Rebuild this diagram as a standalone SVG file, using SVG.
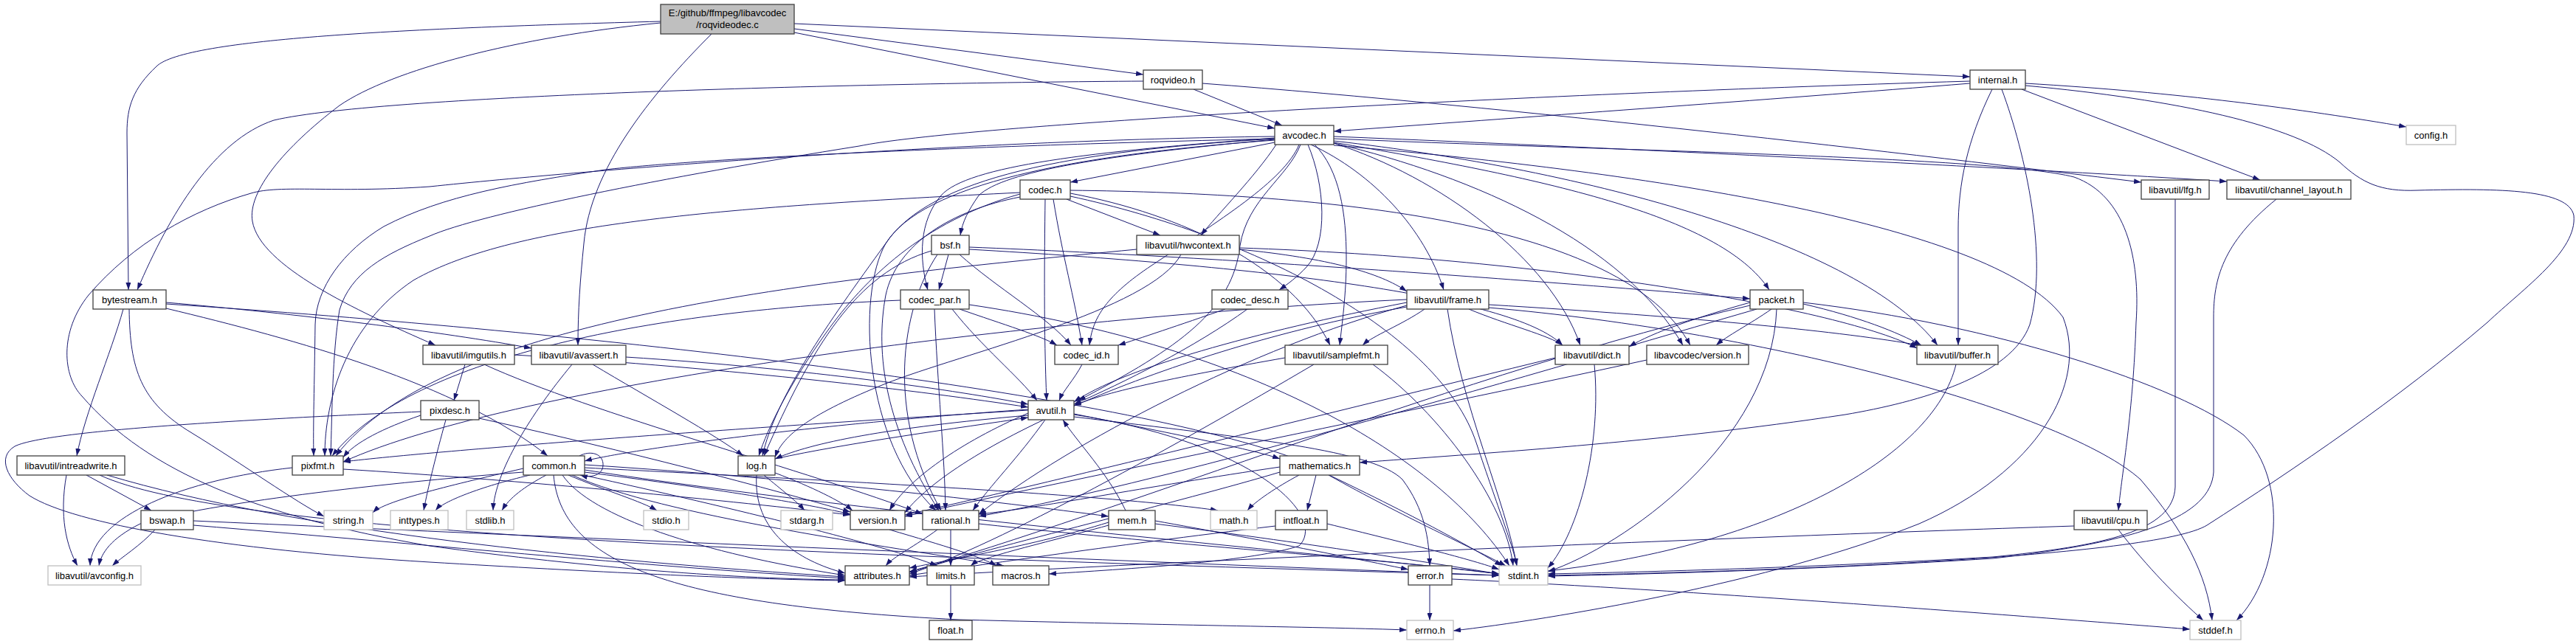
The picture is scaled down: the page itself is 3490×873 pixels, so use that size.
<svg xmlns="http://www.w3.org/2000/svg" width="3490" height="873" viewBox="0 0 3490 873">
<style>
.e{fill:none;stroke:#191970;stroke-width:1;marker-end:url(#a)}
.n rect{fill:#fff;stroke:#404040;stroke-width:1.3}
.s rect{fill:#fff;stroke:#bfbfbf;stroke-width:1.3}
.r rect{fill:#bfbfbf;stroke:#404040;stroke-width:1.3}
text{font-family:"Liberation Sans",Arial,sans-serif;font-size:13px;fill:#000;text-anchor:middle}
</style>
<defs>
<marker id="a" viewBox="0 0 10 7" refX="10" refY="3.5" markerWidth="10" markerHeight="7" orient="auto" markerUnits="userSpaceOnUse"><path d="M0,0L10,3.5L0,7z" fill="#191970"/></marker>
</defs>
<rect width="3490" height="873" fill="#fff"/>
<g id="edges">
<path class="e" d="M895,29 C560,38 250,52 212,90 C180,120 172,145 172,180 L174,393"/>
<path class="e" d="M895,31 C700,50 530,95 460,143 C385,200 335,260 342,300 C352,360 480,420 590,468"/>
<path class="e" d="M964,46 C880,130 800,230 791,330 C786,380 783,420 783,468"/>
<path class="e" d="M1076,39 L1549,101"/>
<path class="e" d="M1076,44 L1727,174"/>
<path class="e" d="M1076,32 L2669,104"/>
<path class="e" d="M1549,110 C1200,112 520,128 371,163 C290,190 230,290 186,393"/>
<path class="e" d="M1617,121 L1737,170"/>
<path class="e" d="M1629,113 C2050,145 2600,210 2901,247"/>
<path class="e" d="M2669,113 C2400,135 2050,160 1807,178"/>
<path class="e" d="M2669,110 C2000,130 1300,170 1164,198 C900,240 650,290 582,320 C520,345 475,370 460,420 C450,480 450,560 448,618"/>
<path class="e" d="M2699,121 C2665,190 2653,250 2653,310 L2653,468"/>
<path class="e" d="M2712,121 C2745,210 2775,350 2750,440 C2725,510 2600,545 2500,562 C2250,600 2000,615 1842,627"/>
<path class="e" d="M2744,113 C2950,125 3120,148 3260,172"/>
<path class="e" d="M2739,121 L3062,244"/>
<path class="e" d="M2744,116 C2950,135 3110,170 3170,220 C3200,248 3225,260 3275,258 C3390,255 3480,257 3487,292 C3492,340 3420,390 3370,437 C3250,540 3110,635 2990,712 C2920,755 2400,775 2097,780"/>
<path class="e" d="M1727,193 L1450,247"/>
<path class="e" d="M1727,189 C1500,210 1360,232 1326,265 C1312,285 1304,300 1301,319"/>
<path class="e" d="M1729,196 C1700,240 1650,290 1627,319"/>
<path class="e" d="M1727,187 C1480,205 1310,225 1275,265 C1245,300 1245,350 1257,393"/>
<path class="e" d="M1772,196 C1795,250 1800,330 1770,362 C1758,375 1745,385 1733,393"/>
<path class="e" d="M1776,196 C1860,235 1930,310 1956,393"/>
<path class="e" d="M1807,193 C2080,240 2330,290 2397,393"/>
<path class="e" d="M1760,196 C1740,245 1650,300 1560,360 C1500,400 1480,430 1476,468"/>
<path class="e" d="M1781,196 C1815,230 1824,290 1824,350 C1824,400 1818,440 1815,468"/>
<path class="e" d="M1727,188 C1300,198 950,215 820,230 C700,248 600,265 520,307 C465,340 428,390 427,440 C426,520 424,580 425,618"/>
<path class="e" d="M1727,185 C1300,190 800,230 582,253 C450,262 380,250 340,262 C260,285 180,330 120,400 C80,450 85,510 111,537 C200,640 350,700 582,740 C800,770 1000,785 1145,786"/>
<path class="e" d="M1807,197 C2200,230 2700,300 2795,430 C2830,520 2760,640 2600,710 C2400,790 2100,840 1969,855"/>
<path class="e" d="M1762,196 C1745,240 1690,270 1680,333 C1670,420 1600,470 1461,543"/>
<path class="e" d="M1807,191 C2150,230 2520,330 2625,468"/>
<path class="e" d="M1807,188 C2200,205 2700,212 2810,240 C2880,265 2900,350 2894,437 C2890,560 2875,640 2870,692"/>
<path class="e" d="M1807,185 C2300,205 2800,232 3017,246"/>
<path class="e" d="M1807,194 C1950,240 2100,350 2141,468"/>
<path class="e" d="M1727,188 C1450,205 1260,240 1200,330 C1120,440 1050,540 1033,618"/>
<path class="e" d="M1727,190 C1450,210 1250,250 1200,330 C1160,400 1170,600 1268,692"/>
<path class="e" d="M1807,194 C2000,240 2200,330 2280,468"/>
<path class="e" d="M225,410 C400,425 600,450 720,472"/>
<path class="e" d="M225,418 C400,460 620,520 742,618"/>
<path class="e" d="M167,419 C150,480 115,560 104,618"/>
<path class="e" d="M175,419 C176,500 190,545 260,587 C330,630 400,680 439,700"/>
<path class="e" d="M225,412 C800,450 1500,530 1750,620 C1900,690 1990,740 2035,767"/>
<path class="e" d="M1445,270 L1572,319"/>
<path class="e" d="M1427,270 C1440,350 1455,400 1466,468"/>
<path class="e" d="M1416,270 C1415,350 1414,450 1418,543"/>
<path class="e" d="M1382,263 C1250,300 1170,380 1120,450 C1070,520 1040,580 1028,618"/>
<path class="e" d="M1382,261 C1000,280 700,300 560,380 C470,440 440,540 440,618"/>
<path class="e" d="M1382,267 C1290,285 1215,330 1200,400 C1185,480 1200,580 1272,692"/>
<path class="e" d="M1450,262 C1600,290 1750,360 1802,468"/>
<path class="e" d="M1450,258 C1800,262 2200,300 2290,468"/>
<path class="e" d="M1450,266 C1700,320 1950,450 2000,600 C2030,690 2050,740 2055,767"/>
<path class="e" d="M1285,345 L1272,393"/>
<path class="e" d="M1300,345 C1350,390 1420,430 1451,468"/>
<path class="e" d="M1313,335 C1700,350 2200,390 2371,405"/>
<path class="e" d="M1313,338 C1700,360 2050,400 2117,468"/>
<path class="e" d="M1262,340 C1160,370 1100,470 1035,618"/>
<path class="e" d="M1270,345 C1220,420 1200,560 1275,692"/>
<path class="e" d="M1300,419 C1360,440 1410,455 1432,468"/>
<path class="e" d="M1290,419 C1330,470 1380,510 1405,543"/>
<path class="e" d="M1266,419 C1270,520 1280,620 1281,692"/>
<path class="e" d="M1220,407 C900,420 560,480 450,618"/>
<path class="e" d="M1313,413 C1700,470 1950,620 2045,767"/>
<path class="e" d="M1660,419 C1600,440 1540,460 1515,468"/>
<path class="e" d="M1690,419 C1620,470 1520,520 1455,548"/>
<path class="e" d="M1466,494 C1455,515 1440,530 1435,543"/>
<path class="e" d="M1679,338 C1800,350 1870,370 1906,395"/>
<path class="e" d="M1679,336 C2100,350 2500,420 2597,472"/>
<path class="e" d="M1600,345 C1560,420 1300,480 1200,520 C1100,560 1060,590 1050,620"/>
<path class="e" d="M1540,338 C1100,380 600,430 455,618"/>
<path class="e" d="M1930,419 C1900,440 1860,455 1846,468"/>
<path class="e" d="M1906,410 C1700,450 1520,500 1455,545"/>
<path class="e" d="M2017,413 C2300,430 2500,450 2600,468"/>
<path class="e" d="M1990,419 C2040,440 2100,455 2117,468"/>
<path class="e" d="M1906,414 C1700,470 1450,600 1326,697"/>
<path class="e" d="M1906,406 C1400,430 700,520 465,626"/>
<path class="e" d="M2017,417 C2400,450 2800,560 2900,650 C2960,720 2990,780 2997,841"/>
<path class="e" d="M1961,419 C1980,550 2040,680 2055,767"/>
<path class="e" d="M1906,416 C1600,470 1300,600 1226,695"/>
<path class="e" d="M2443,410 C2700,440 2950,520 3040,590 C3100,650 3090,780 3030,841"/>
<path class="e" d="M2407,419 C2400,600 2200,740 2097,775"/>
<path class="e" d="M2371,414 C2000,500 1500,700 1232,775"/>
<path class="e" d="M2443,412 C2520,430 2570,450 2603,468"/>
<path class="e" d="M2371,410 C2300,430 2240,450 2207,470"/>
<path class="e" d="M2380,419 C2100,500 1600,650 1326,700"/>
<path class="e" d="M2400,419 C2370,440 2340,455 2325,468"/>
<path class="e" d="M1860,494 C1950,560 2040,680 2050,767"/>
<path class="e" d="M1741,485 C1600,510 1500,530 1455,550"/>
<path class="e" d="M1780,494 C1600,600 1350,740 1232,778"/>
<path class="e" d="M2160,494 C2170,600 2140,720 2097,770"/>
<path class="e" d="M2107,485 C1800,560 1400,660 1226,698"/>
<path class="e" d="M2231,488 C1900,560 1450,650 1226,700"/>
<path class="e" d="M2650,494 C2620,620 2400,740 2097,774"/>
<path class="e" d="M2947,270 L2947,660 C2945,720 2850,740 2700,755 C2450,770 2200,776 2097,778"/>
<path class="e" d="M3084,270 C3010,330 2999,380 2999,430 L2999,640 C2995,700 2900,735 2700,757 C2450,773 2200,779 2097,781"/>
<path class="e" d="M2870,718 C2910,770 2950,810 2985,841"/>
<path class="e" d="M2810,713 C2300,730 1600,760 1232,782"/>
<path class="e" d="M697,481 C1000,500 1250,530 1393,552"/>
<path class="e" d="M630,494 L615,543"/>
<path class="e" d="M656,494 C800,560 1100,640 1250,697"/>
<path class="e" d="M775,494 C720,560 670,640 668,692"/>
<path class="e" d="M848,484 C1100,500 1300,530 1393,548"/>
<path class="e" d="M803,494 C880,540 970,590 1007,618"/>
<path class="e" d="M604,569 C590,620 580,660 574,692"/>
<path class="e" d="M570,558 C300,570 60,585 20,605 C-5,620 10,650 40,672 C100,710 300,745 582,762 C800,775 1000,785 1145,787"/>
<path class="e" d="M570,563 C520,580 480,600 465,620"/>
<path class="e" d="M649,567 C800,600 1000,650 1152,694"/>
<path class="e" d="M1393,555 C1100,575 850,610 792,625"/>
<path class="e" d="M1455,565 C1700,595 1860,610 1900,650 C1930,690 1936,730 1937,767"/>
<path class="e" d="M1416,569 C1380,620 1340,660 1318,692"/>
<path class="e" d="M1393,560 C1300,600 1230,650 1205,692"/>
<path class="e" d="M1455,562 C1700,600 1800,700 1760,740 C1700,760 1550,770 1421,778"/>
<path class="e" d="M1455,561 C1600,590 1700,610 1734,622"/>
<path class="e" d="M1393,563 C1200,580 1100,600 1050,622"/>
<path class="e" d="M1393,556 C1000,580 600,610 465,626"/>
<path class="e" d="M135,644 C300,720 1000,750 2031,780"/>
<path class="e" d="M90,644 C80,700 90,740 105,767"/>
<path class="e" d="M145,644 C400,720 800,760 1145,782"/>
<path class="e" d="M117,644 L205,692"/>
<path class="e" d="M396,634 C250,650 125,700 122,767"/>
<path class="e" d="M465,636 C700,650 1000,680 1152,698"/>
<path class="e" d="M750,644 C760,760 900,820 1300,840 C1600,848 1800,850 1906,854"/>
<path class="e" d="M718,644 C650,660 600,680 590,692"/>
<path class="e" d="M790,644 C1000,690 1200,740 1270,767"/>
<path class="e" d="M792,634 C1100,650 1500,670 1650,692"/>
<path class="e" d="M792,637 C1200,700 1800,750 2031,778"/>
<path class="e" d="M770,644 C820,665 870,680 890,692"/>
<path class="e" d="M740,644 C710,660 690,675 680,692"/>
<path class="e" d="M709,635 C600,660 520,680 505,695"/>
<path class="e" d="M762,644 C800,700 950,750 1145,780"/>
<path class="e" d="M775,644 C900,700 1200,740 1360,767"/>
<path class="e" d="M792,640 C950,660 1080,680 1152,697"/>
<path class="e" d="M709,640 C450,660 250,690 190,710 C150,730 137,750 134,767"/>
<path class="e" d="M792,630 C1100,650 1350,680 1502,700"/>
<path class="e" d="M785,618 C800,610 818,615 817,631 C816,645 800,648 786,644"/>
<path class="e" d="M1035,644 C1060,665 1080,680 1090,692"/>
<path class="e" d="M1050,622 C1150,600 1300,580 1393,566"/>
<path class="e" d="M1025,644 C1020,720 1080,760 1145,777"/>
<path class="e" d="M1050,641 C1100,660 1140,680 1155,692"/>
<path class="e" d="M1800,644 C1900,700 2000,745 2040,767"/>
<path class="e" d="M1760,644 C1730,660 1700,680 1690,692"/>
<path class="e" d="M1734,640 C1600,680 1350,740 1232,776"/>
<path class="e" d="M1734,633 C1550,660 1400,690 1326,697"/>
<path class="e" d="M1783,644 L1771,692"/>
<path class="e" d="M262,706 C800,730 1500,760 2031,780"/>
<path class="e" d="M210,718 C190,740 165,755 152,767"/>
<path class="e" d="M262,712 C600,740 900,770 1145,784"/>
<path class="e" d="M1205,718 C1280,740 1330,755 1350,767"/>
<path class="e" d="M1326,710 C1600,740 1900,760 2031,778"/>
<path class="e" d="M1288,718 L1288,767"/>
<path class="e" d="M1270,718 C1240,740 1210,755 1200,767"/>
<path class="e" d="M1502,712 C1400,740 1330,755 1315,767"/>
<path class="e" d="M1565,710 C1800,740 1950,765 2031,778"/>
<path class="e" d="M1502,708 C1400,740 1280,760 1232,770"/>
<path class="e" d="M1565,706 C1700,730 1850,760 1908,772"/>
<path class="e" d="M1525,692 C1500,640 1460,600 1440,569"/>
<path class="e" d="M1798,710 C1900,735 2000,760 2031,772"/>
<path class="e" d="M1728,713 C1500,740 1300,770 1232,780"/>
<path class="e" d="M1288,793 L1288,841"/>
<path class="e" d="M1937,793 L1937,841"/>
<path class="e" d="M1967,785 C2300,800 2800,840 2967,853"/>
</g>
<g id="root" class="r"><rect x="895" y="6" width="181" height="40"/><text x="985.5" y="22">E:/github/ffmpeg/libavcodec</text><text x="985.5" y="38">/roqvideodec.c</text></g>
<g id="roqvideo" class="n"><rect x="1549" y="95" width="80" height="26"/><text x="1589" y="112.5">roqvideo.h</text></g>
<g id="internal" class="n"><rect x="2669" y="95" width="75" height="26"/><text x="2706.5" y="112.5">internal.h</text></g>
<g id="avcodec" class="n"><rect x="1727" y="170" width="80" height="26"/><text x="1767" y="187.5">avcodec.h</text></g>
<g id="config" class="s"><rect x="3260" y="170" width="67" height="26"/><text x="3293.5" y="187.5">config.h</text></g>
<g id="codec" class="n"><rect x="1382" y="244" width="68" height="26"/><text x="1416" y="261.5">codec.h</text></g>
<g id="lfg" class="n"><rect x="2901" y="244" width="92" height="26"/><text x="2947" y="261.5">libavutil/lfg.h</text></g>
<g id="channel_layout" class="n"><rect x="3017" y="244" width="168" height="26"/><text x="3101" y="261.5">libavutil/channel_layout.h</text></g>
<g id="bsf" class="n"><rect x="1262" y="319" width="51" height="26"/><text x="1287.5" y="336.5">bsf.h</text></g>
<g id="hwcontext" class="n"><rect x="1540" y="319" width="139" height="26"/><text x="1609.5" y="336.5">libavutil/hwcontext.h</text></g>
<g id="bytestream" class="n"><rect x="126" y="393" width="99" height="26"/><text x="175.5" y="410.5">bytestream.h</text></g>
<g id="codec_par" class="n"><rect x="1220" y="393" width="93" height="26"/><text x="1266.5" y="410.5">codec_par.h</text></g>
<g id="codec_desc" class="n"><rect x="1642" y="393" width="103" height="26"/><text x="1693.5" y="410.5">codec_desc.h</text></g>
<g id="frame" class="n"><rect x="1906" y="393" width="111" height="26"/><text x="1961.5" y="410.5">libavutil/frame.h</text></g>
<g id="packet" class="n"><rect x="2371" y="393" width="72" height="26"/><text x="2407" y="410.5">packet.h</text></g>
<g id="imgutils" class="n"><rect x="573" y="468" width="124" height="26"/><text x="635" y="485.5">libavutil/imgutils.h</text></g>
<g id="avassert" class="n"><rect x="720" y="468" width="128" height="26"/><text x="784" y="485.5">libavutil/avassert.h</text></g>
<g id="codec_id" class="n"><rect x="1429" y="468" width="86" height="26"/><text x="1472" y="485.5">codec_id.h</text></g>
<g id="samplefmt" class="n"><rect x="1741" y="468" width="139" height="26"/><text x="1810.5" y="485.5">libavutil/samplefmt.h</text></g>
<g id="dict" class="n"><rect x="2107" y="468" width="100" height="26"/><text x="2157" y="485.5">libavutil/dict.h</text></g>
<g id="lavc_version" class="n"><rect x="2231" y="468" width="138" height="26"/><text x="2300" y="485.5">libavcodec/version.h</text></g>
<g id="buffer" class="n"><rect x="2597" y="468" width="110" height="26"/><text x="2652" y="485.5">libavutil/buffer.h</text></g>
<g id="pixdesc" class="n"><rect x="570" y="543" width="79" height="26"/><text x="609.5" y="560.5">pixdesc.h</text></g>
<g id="avutil" class="n"><rect x="1393" y="543" width="62" height="26"/><text x="1424" y="560.5">avutil.h</text></g>
<g id="intreadwrite" class="n"><rect x="23" y="618" width="146" height="26"/><text x="96" y="635.5">libavutil/intreadwrite.h</text></g>
<g id="pixfmt" class="n"><rect x="396" y="618" width="69" height="26"/><text x="430.5" y="635.5">pixfmt.h</text></g>
<g id="common" class="n"><rect x="709" y="618" width="83" height="26"/><text x="750.5" y="635.5">common.h</text></g>
<g id="log" class="n"><rect x="1000" y="618" width="50" height="26"/><text x="1025" y="635.5">log.h</text></g>
<g id="mathematics" class="n"><rect x="1734" y="618" width="108" height="26"/><text x="1788" y="635.5">mathematics.h</text></g>
<g id="bswap" class="n"><rect x="191" y="692" width="71" height="26"/><text x="226.5" y="709.5">bswap.h</text></g>
<g id="string" class="s"><rect x="439" y="692" width="66" height="26"/><text x="472" y="709.5">string.h</text></g>
<g id="inttypes" class="s"><rect x="529" y="692" width="78" height="26"/><text x="568" y="709.5">inttypes.h</text></g>
<g id="stdlib" class="s"><rect x="632" y="692" width="64" height="26"/><text x="664" y="709.5">stdlib.h</text></g>
<g id="stdio" class="s"><rect x="872" y="692" width="61" height="26"/><text x="902.5" y="709.5">stdio.h</text></g>
<g id="stdarg" class="s"><rect x="1058" y="692" width="70" height="26"/><text x="1093" y="709.5">stdarg.h</text></g>
<g id="version" class="n"><rect x="1152" y="692" width="74" height="26"/><text x="1189" y="709.5">version.h</text></g>
<g id="rational" class="n"><rect x="1250" y="692" width="76" height="26"/><text x="1288" y="709.5">rational.h</text></g>
<g id="mem" class="n"><rect x="1502" y="692" width="63" height="26"/><text x="1533.5" y="709.5">mem.h</text></g>
<g id="math" class="s"><rect x="1640" y="692" width="63" height="26"/><text x="1671.5" y="709.5">math.h</text></g>
<g id="intfloat" class="n"><rect x="1728" y="692" width="70" height="26"/><text x="1763" y="709.5">intfloat.h</text></g>
<g id="cpu" class="n"><rect x="2810" y="692" width="99" height="26"/><text x="2859.5" y="709.5">libavutil/cpu.h</text></g>
<g id="avconfig" class="s"><rect x="65" y="767" width="126" height="26"/><text x="128" y="784.5">libavutil/avconfig.h</text></g>
<g id="attributes" class="n"><rect x="1145" y="767" width="87" height="26"/><text x="1188.5" y="784.5">attributes.h</text></g>
<g id="limits" class="n"><rect x="1256" y="767" width="64" height="26"/><text x="1288" y="784.5">limits.h</text></g>
<g id="macros" class="n"><rect x="1345" y="767" width="76" height="26"/><text x="1383" y="784.5">macros.h</text></g>
<g id="error" class="n"><rect x="1908" y="767" width="59" height="26"/><text x="1937.5" y="784.5">error.h</text></g>
<g id="stdint" class="s"><rect x="2031" y="767" width="66" height="26"/><text x="2064" y="784.5">stdint.h</text></g>
<g id="float" class="n"><rect x="1259" y="841" width="58" height="26"/><text x="1288" y="858.5">float.h</text></g>
<g id="errno" class="s"><rect x="1906" y="841" width="63" height="26"/><text x="1937.5" y="858.5">errno.h</text></g>
<g id="stddef" class="s"><rect x="2967" y="841" width="69" height="26"/><text x="3001.5" y="858.5">stddef.h</text></g>
</svg>
